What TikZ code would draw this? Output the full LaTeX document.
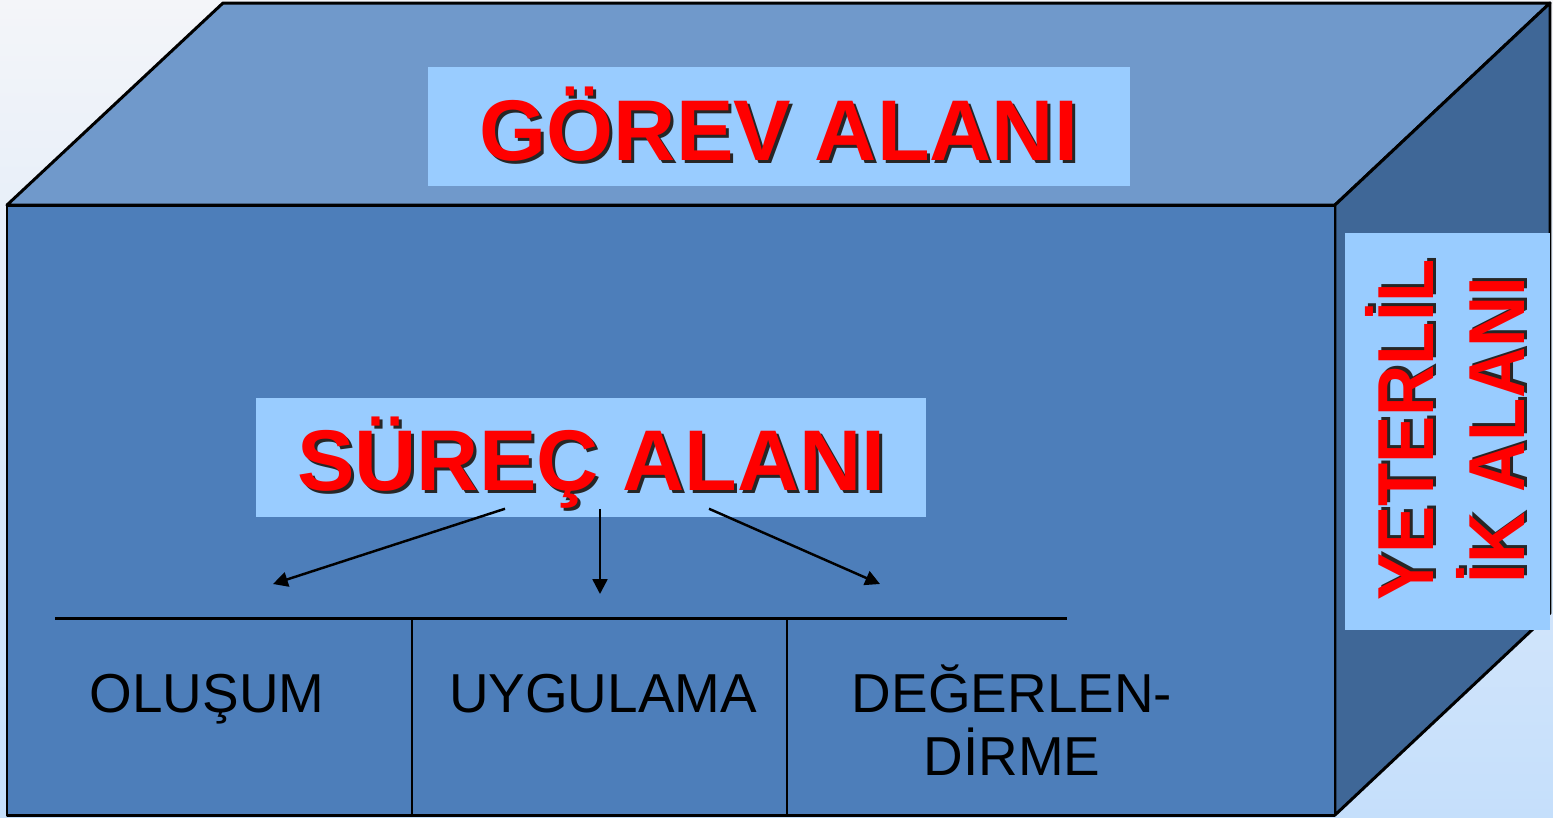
\documentclass[tikz,border=0pt]{standalone}
\usepackage{fontspec}
\setmainfont{Liberation Sans}
\usetikzlibrary{arrows.meta, calc}
\definecolor{bgtop}{RGB}{244,245,249}
\definecolor{bgbottom}{RGB}{197,223,251}
\definecolor{frontblue}{RGB}{77,126,186}
\definecolor{topblue}{RGB}{112,153,203}
\definecolor{sideblue}{RGB}{63,103,151}
\definecolor{boxblue}{RGB}{153,204,255}
\tikzset{
    lightbox/.style={
        rectangle,
        fill=boxblue,
        draw=none,
        inner sep=0pt
    },
    redtitle/.style={
        text=red,
        inner sep=0pt,
        font=\bfseries\fontsize{24.5}{29}\selectfont % judul besar
    },
    redshadow/.style={redtitle, text=black!85},
    celltext/.style={
        text=black,
        inner sep=0pt,
        align=center,
        font=\fontsize{15.6}{17.9}\selectfont
    },
    faceline/.style={draw=black, line width=0.85pt, line join=round},
    pointer/.style={-{Triangle[length=4.2pt, width=4.2pt]}, line width=0.7pt}
}

\begin{document}
\begin{tikzpicture}[x=0.01cm, y=-0.01cm]

    \useasboundingbox (0,0) rectangle (1553,817);
    \shade[top color=bgtop, bottom color=bgbottom] (0,0) rectangle (1553,817);

    % kutu
    \filldraw[faceline, fill=topblue] (7,205) -- (223,3) -- (1550,3) -- (1335,205) -- cycle;
    \filldraw[faceline, fill=sideblue] (1335,205) -- (1550,3) -- (1550,613) -- (1335,815) -- cycle;
    \filldraw[faceline, fill=frontblue] (7,205) rectangle (1335,815);

    \node[lightbox, minimum width=7.02cm, minimum height=1.19cm] (gorev) at (779,126.5) {};
    \node[redshadow, anchor=base] (gorevgolge) at (782,163) {GÖREV ALANI};
    \node[redtitle, anchor=base] (gorevyazi) at (779,160) {GÖREV ALANI};

    \node[lightbox, minimum width=6.70cm, minimum height=1.19cm] (surec) at (591,457.5) {};
    \node[redshadow, anchor=base] (surecgolge) at (594.5,493) {SÜREÇ ALANI};
    \node[redtitle, anchor=base] (surecyazi) at (591.5,490) {SÜREÇ ALANI};

    \node[lightbox, minimum width=2.05cm, minimum height=3.97cm] (yeterlilik) at (1447.5,431.5) {};
    \node[redshadow, rotate=90, xscale=0.89, align=center,
          font=\bfseries\fontsize{22.6}{25.9}\selectfont] (yeterlilikgolge) at (1448,427) {YETERLİL\\İK ALANI};
    \node[redtitle, rotate=90, xscale=0.89, align=center,
          font=\bfseries\fontsize{22.6}{25.9}\selectfont] (yeterlilikyazi) at (1445,430) {YETERLİL\\İK ALANI};

    % alt tablo
    \draw[faceline] (55,618) -- (1067,618);
    \draw[faceline] (412,618) -- (412,815);
    \draw[faceline] (787,618) -- (787,815);

    \node[celltext, anchor=base] (olusum) at (207,712) {OLUŞUM};
    \node[celltext, anchor=base] (uygulama) at (603,712) {UYGULAMA};
    \node[celltext, anchor=base] (degerlendirme) at (1012,775) {DEĞERLEN-\\DİRME};

    \coordinate (olusumuc) at (273,584);
    \coordinate (uygulamauc) at (600,594);
    \coordinate (degerlendirmeuc) at (880,584);

    \draw[pointer] ($(surec.south)+(-86,-9)$) -- (olusumuc);
    \draw[pointer] ($(surec.south)+(9,-9)$) -- (uygulamauc);
    \draw[pointer] ($(surec.south)+(118,-9)$) -- (degerlendirmeuc);

\end{tikzpicture}
\end{document}
